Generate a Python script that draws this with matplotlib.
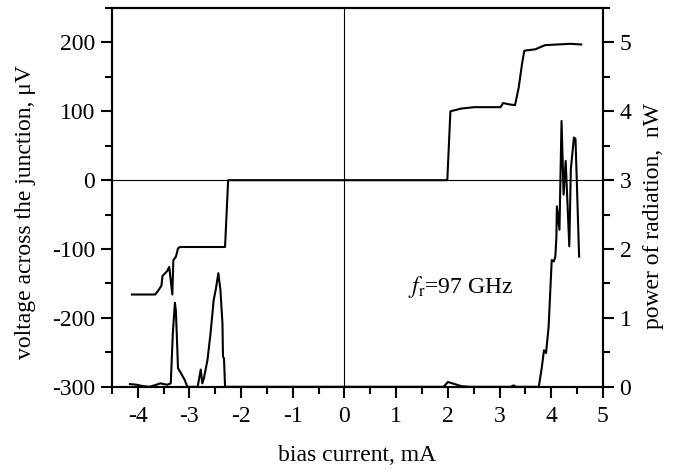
import numpy as np
import matplotlib.pyplot as plt
from matplotlib.ticker import MultipleLocator

plt.rcParams['font.family'] = ['Liberation Serif', 'DejaVu Serif']
plt.rcParams['mathtext.fontset'] = 'stix'
plt.rcParams['axes.unicode_minus'] = False

# voltage across the junction (uV) vs bias current (mA)
cur_v = [-4.11, -3.66, -3.60, -3.54, -3.52, -3.43, -3.39, -3.33, -3.31, -3.26,
         -3.22, -3.18, -2.31, -2.25, 1.99, 2.05, 2.26, 2.51, 3.02, 3.07,
         3.19, 3.30, 3.37, 3.44, 3.48, 3.69, 3.88, 4.11, 4.37, 4.58]
volt = [-166, -166, -160, -153, -139, -132, -126, -166, -116, -111,
        -99, -97, -97, 0, 0, 100, 104, 106, 106, 112,
        110, 109, 134, 171, 188, 190, 196, 197, 198, 197]

# power of radiation (nW) vs bias current (mA)
cur_p = [-4.15, -4.02, -3.90, -3.77, -3.64, -3.56, -3.43, -3.36, -3.32, -3.28,
         -3.26, -3.22, -3.18, -3.09, -3.04, -2.84, -2.78, -2.75, -2.72, -2.65,
         -2.59, -2.53, -2.49, -2.44, -2.40, -2.36, -2.35, -2.33, -2.31, 1.92,
         2.00, 2.09, 2.26, 2.43, 3.22, 3.27, 3.32, 3.76, 3.82, 3.86,
         3.90, 3.95, 4.01, 4.05, 4.08, 4.10, 4.11, 4.16, 4.20, 4.24,
         4.28, 4.35, 4.38, 4.44, 4.47, 4.54]
power = [0.04, 0.03, 0.01, 0.0, 0.03, 0.05, 0.03, 0.05, 0.78, 1.22,
         1.09, 0.27, 0.22, 0.10, 0.0, 0.0, 0.25, 0.05, 0.12, 0.39,
         0.78, 1.26, 1.41, 1.65, 1.41, 0.92, 0.44, 0.41, 0.0, 0.0,
         0.07, 0.05, 0.01, 0.0, 0.0, 0.02, 0.0, 0.0, 0.29, 0.53,
         0.49, 0.87, 1.84, 1.82, 1.89, 2.16, 2.62, 2.28, 3.86, 2.79,
         3.28, 2.04, 3.16, 3.62, 3.60, 1.89]

fig = plt.figure(figsize=(6.82, 4.70), dpi=100)
ax = fig.add_axes([0.164, 0.177, 0.720, 0.806])
ax2 = ax.twinx()

ax.axhline(0, color='black', lw=0.8)
ax.axvline(0, color='black', lw=0.8)
ax.plot(cur_v, volt, color='black', lw=1.5)
ax2.plot(cur_p, power, color='black', lw=1.5)

ax.set_xlim(-4.5, 5)
ax.set_ylim(-300, 250)
ax2.set_ylim(0, 5.5)

ax.xaxis.set_major_locator(MultipleLocator(1))
ax.xaxis.set_minor_locator(MultipleLocator(0.5))
ax.yaxis.set_minor_locator(MultipleLocator(50))
ax2.yaxis.set_minor_locator(MultipleLocator(0.5))
ax.set_yticks([-300, -200, -100, 0, 100, 200])
ax2.set_yticks([0, 1, 2, 3, 4, 5])

for a in (ax, ax2):
    for s in a.spines.values():
        s.set_linewidth(1.5)
    a.tick_params(which='major', direction='out', length=8, width=1.5,
                  labelsize=17, pad=4)
    a.tick_params(which='minor', direction='out', length=5, width=1.5)
ax.tick_params(which='both', top=False)
ax.tick_params(axis='x', pad=6)

ax.set_xlabel('bias current, mA', fontsize=17, labelpad=13)
ax.set_ylabel('voltage across the junction, \u03bcV', fontsize=17)
ax2.set_ylabel('power of radiation,  nW', fontsize=17)
ax.yaxis.set_label_coords(-0.155, 0.46)
ax2.yaxis.set_label_coords(1.082, 0.45)

ax.text(1.22, -155, r'$f_{\rm r}$=97 GHz', fontsize=17, ha='left', va='center')

fig.savefig('out.png', dpi=100)
